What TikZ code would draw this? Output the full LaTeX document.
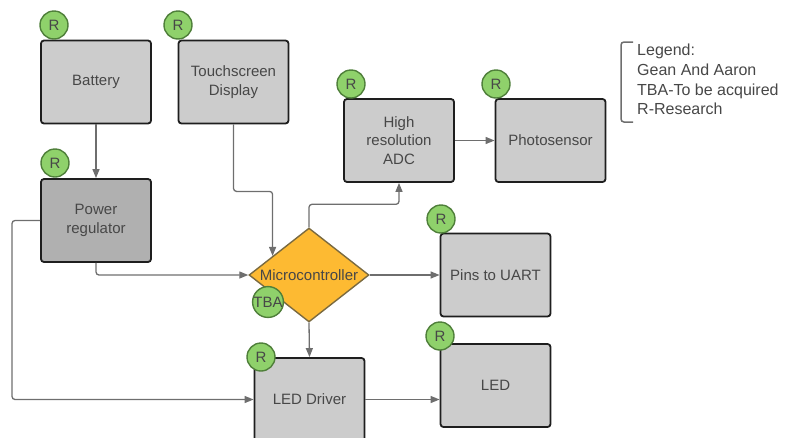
\documentclass[tikz,border=0pt]{standalone}
\usepackage{fontspec}
\setmainfont{Liberation Sans}
\usetikzlibrary{shapes.geometric,arrows.meta,calc}
\definecolor{boxfill}{HTML}{CCCCCC}
\definecolor{boxdark}{HTML}{B0B0B0}
\definecolor{boxline}{HTML}{1E1E1E}
\definecolor{txt}{HTML}{474747}
\definecolor{rfill}{HTML}{8FD16B}
\definecolor{rline}{HTML}{4F7F3A}
\definecolor{mcfill}{HTML}{FDBA32}
\definecolor{mcline}{HTML}{7A6A40}
\definecolor{conn}{HTML}{6E6E6E}
\begin{document}
\begin{tikzpicture}[x=1pt,y=-1pt,
 block/.style={draw=boxline, line width=1.8pt, fill=boxfill, rounded corners=3pt,
   minimum width=110pt, minimum height=83pt, inner sep=0pt, align=center, text=txt,
   font=\fontsize{15}{18.5}\selectfont},
 rmark/.style={circle, draw=rline, line width=1.4pt, fill=rfill, minimum size=28pt,
   inner sep=0pt, text=txt, font=\fontsize{15}{18}\selectfont},
 arr/.style={draw=conn, line width=1.3pt, -{Triangle[length=9pt,width=7pt]}, rounded corners=3pt},
 plain/.style={draw=conn, line width=1.3pt, rounded corners=3pt}
]
\useasboundingbox (0,0) rectangle (787,437);

% blocks
\node[block] (bat) at (96,82) {Battery};
\node[block] (ts) at (233.5,82) {Touchscreen\\Display};
\node[block, fill=boxdark] (pr) at (96,220.5) {Power\\regulator};
\node[block] (adc) at (399,140.5) {High\\resolution\\ADC};
\node[block] (ph) at (550.5,140.5) {Photosensor};
\node[block] (pins) at (495.5,275) {Pins to UART};
\node[block] (led) at (495.5,385.5) {LED};
\node[block] (ld) at (309.5,399.5) {LED Driver};
\node[diamond, draw=mcline, line width=1.4pt, fill=mcfill, minimum width=120pt,
  minimum height=94pt, aspect=1.28, inner sep=0pt, text=txt,
  font=\fontsize{15}{18}\selectfont] (mc) at (309,275) {Microcontroller};

% connectors
\draw[arr] (bat.south) -- (pr.north);
\draw[arr] (ts.south) -- ++(0,67) -| ($(mc.west)!0.4!(mc.north)$);
\draw[arr] (pr.south) |- (mc.west);
\draw[arr] (pr.west) -- (12,220.5) |- (ld.west);
\draw[arr] (mc.north) -- ++(0,-23) -| (adc.south);
\draw[arr] (adc.east) -- (ph.west);
\draw[arr] (mc.east) -- (pins.west);
\draw[arr] (mc.south) -- (ld.north);
\draw[arr] (ld.east) -- (ld.east -| led.west);

% markers
\node[rmark] (r1) at (54,25) {R};
\node[rmark] (r2) at (178,25) {R};
\node[rmark] (r3) at (55,163) {R};
\node[rmark] (r4) at (351,84) {R};
\node[rmark] (r5) at (496,84) {R};
\node[rmark] (r6) at (441,219) {R};
\node[rmark] (r7) at (440,336) {R};
\node[rmark] (r8) at (261,357) {R};
\node[rmark] (tba) at (268,302) {TBA};

% legend
\coordinate (lgA) at (633,42);
\coordinate (lgB) at (633,122);
\draw[plain, line width=1.5pt] (lgA) -- (621,42) -- (621,122) -- (lgB);
\node[anchor=north west, align=left, inner sep=0pt, text=txt,
  font=\fontsize{16}{19.7}\selectfont] (legend) at (637,44)
  {Legend:\\Gean And Aaron\\TBA-To be acquired\\R-Research};
\end{tikzpicture}
\end{document}
